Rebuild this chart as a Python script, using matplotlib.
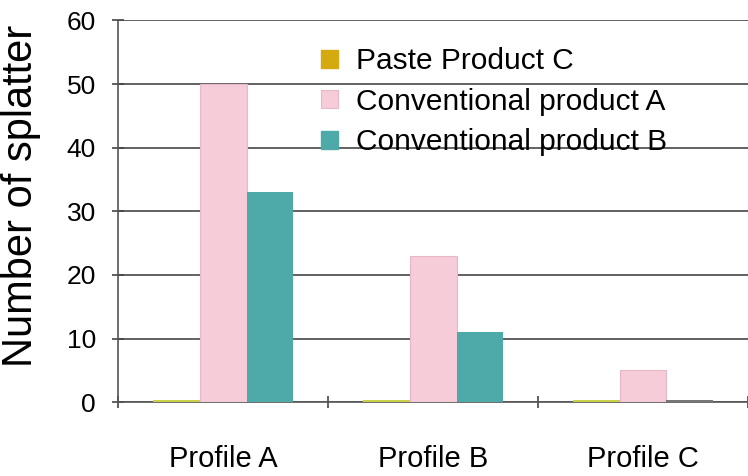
import numpy as np
import matplotlib
matplotlib.use("Agg")
from matplotlib import pyplot as plt

# Data
profiles = ["Profile A", "Profile B", "Profile C"]
series = ["Paste Product C", "Conventional product A", "Conventional product B"]
paste_c = [0.3, 0.3, 0.3]
conv_a = [50, 23, 5]
conv_b = [33, 11, 0.3]

plt.rcParams['font.family'] = ['Liberation Sans', 'DejaVu Sans']

fig = plt.figure(figsize=(7.48, 4.76), dpi=100)
ax = fig.add_axes([0.158, 0.155, 0.842, 0.802])

x = np.arange(len(profiles))
w = 0.223
ax.bar(x - w, paste_c, w, color='#c9d14a', label=series[0], zorder=3)
ax.bar(x, conv_a, w, color='#f6ccd8', edgecolor='#e8b8c6', linewidth=0.8,
       label=series[1], zorder=3)
ax.bar(x + w, conv_b, w, color=['#4eaaa8', '#4eaaa8', '#777777'],
       label=series[2], zorder=3)

ax.set_ylim(0, 60)
ax.set_yticks(range(0, 61, 10))
ax.set_xlim(-0.5, 2.5)
ax.set_xticks(x)
ax.set_xticklabels(profiles, fontsize=21)
ax.set_xticks([-0.5, 0.5, 1.5, 2.5], minor=True)
ax.tick_params(axis='x', which='major', length=0, pad=31)
ax.tick_params(axis='x', which='minor', length=8, color='#444444', width=1.2,
               direction='inout')
ax.tick_params(axis='y', labelsize=19, length=8, direction='inout',
               color='#444444', width=1.2, pad=12)
ax.yaxis.grid(True, color='#555555', linewidth=1.3, zorder=0)
for s in ['top', 'right']:
    ax.spines[s].set_visible(False)
for s in ['left', 'bottom']:
    ax.spines[s].set_color('#555555')
    ax.spines[s].set_linewidth(1.2)
ax.set_ylabel("Number of splatter", fontsize=30)
ax.yaxis.set_label_coords(-0.123, 0.54)

h, l = ax.get_legend_handles_labels()
h[0] = plt.Rectangle((0, 0), 1, 1, color='#d4aa10')
h[2] = plt.Rectangle((0, 0), 1, 1, color='#4eaaa8')
leg = ax.legend(h, l, loc='upper left', bbox_to_anchor=(0.28, 1.0),
                frameon=False, fontsize=21.5, handlelength=0.55, handleheight=0.55,
                handletextpad=0.6, labelspacing=0.42)

fig.savefig("out.png", dpi=100)
